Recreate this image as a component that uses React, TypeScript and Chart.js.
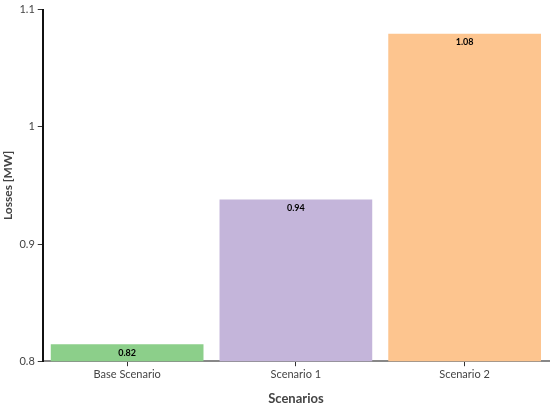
import React, { useEffect, useRef } from "react";
import { Chart, registerables } from "chart.js";

Chart.register(...registerables);

const categories = ["Base Scenario", "Scenario 1", "Scenario 2"];
const lossValues = [0.8145, 0.938, 1.0795];
const valueLabels = ["0.82", "0.94", "1.08"];
const yTickLabels: Record<string, string> = { "0.8": "0.8", "0.9": "0.9", "1": "1", "1.1": "1.1" };
const barColors = ["#8ccf8a", "#c4b5da", "#fdc58f"];

const FONT = "Lato, 'Noto Sans', sans-serif";

const valueLabelPlugin = {
  id: "valueLabels",
  afterDatasetsDraw(chart: any) {
    const ctx = chart.ctx;
    const meta = chart.getDatasetMeta(0);
    ctx.save();
    ctx.font = `bold 9px ${FONT}`;
    ctx.fillStyle = "#000";
    ctx.textAlign = "center";
    ctx.textBaseline = "top";
    meta.data.forEach((bar: any, i: number) => {
      ctx.fillText(valueLabels[i], bar.x, bar.y + 4);
    });
    ctx.restore();
  },
};

export default function App() {
  const ref = useRef<HTMLCanvasElement>(null);
  useEffect(() => {
    document.body.style.margin = "0";
    const chart = new Chart(ref.current!, {
      type: "bar",
      data: {
        labels: categories,
        datasets: [
          {
            data: lossValues,
            backgroundColor: barColors,
            barPercentage: 0.905,
            categoryPercentage: 1,
          },
        ],
      },
      options: {
        animation: false,
        responsive: false,
        maintainAspectRatio: false,
        layout: { padding: { top: 4, right: 1, left: 1, bottom: 2 } },
        plugins: { legend: { display: false }, tooltip: { enabled: false } },
        scales: {
          x: {
            grid: {
              display: true,
              drawOnChartArea: false,
              drawTicks: true,
              offset: false,
              tickLength: 5,
              tickColor: "#333",
            },
            border: { display: true, color: "#888", width: 2 },
            ticks: { color: "#444", font: { family: FONT, size: 11 }, padding: 2 },
            title: {
              display: true,
              text: "Scenarios",
              color: "#444",
              font: { family: FONT, size: 13, weight: "bold" },
              padding: { top: 8, bottom: 0 },
            },
          },
          y: {
            min: 0.8,
            max: 1.1,
            ticks: {
              stepSize: 0.1,
              color: "#444",
              font: { family: FONT, size: 11 },
              padding: 3,
              callback: (v: any) => {
                const k = String(Math.round(Number(v) * 10) / 10);
                return yTickLabels[k] ?? k;
              },
            },
            grid: {
              display: true,
              drawOnChartArea: false,
              drawTicks: true,
              tickLength: 5,
              tickColor: "#333",
            },
            border: { display: true, color: "#111", width: 2 },
            title: {
              display: true,
              text: "Losses [MW]",
              color: "#444",
              font: { family: FONT, size: 12, weight: "bold" },
              padding: { top: 0, bottom: 1 },
            },
          },
        },
      },
      plugins: [valueLabelPlugin],
    });
    return () => chart.destroy();
  }, []);
  return <canvas ref={ref} width={550} height={409} style={{ display: "block" }} />;
}
